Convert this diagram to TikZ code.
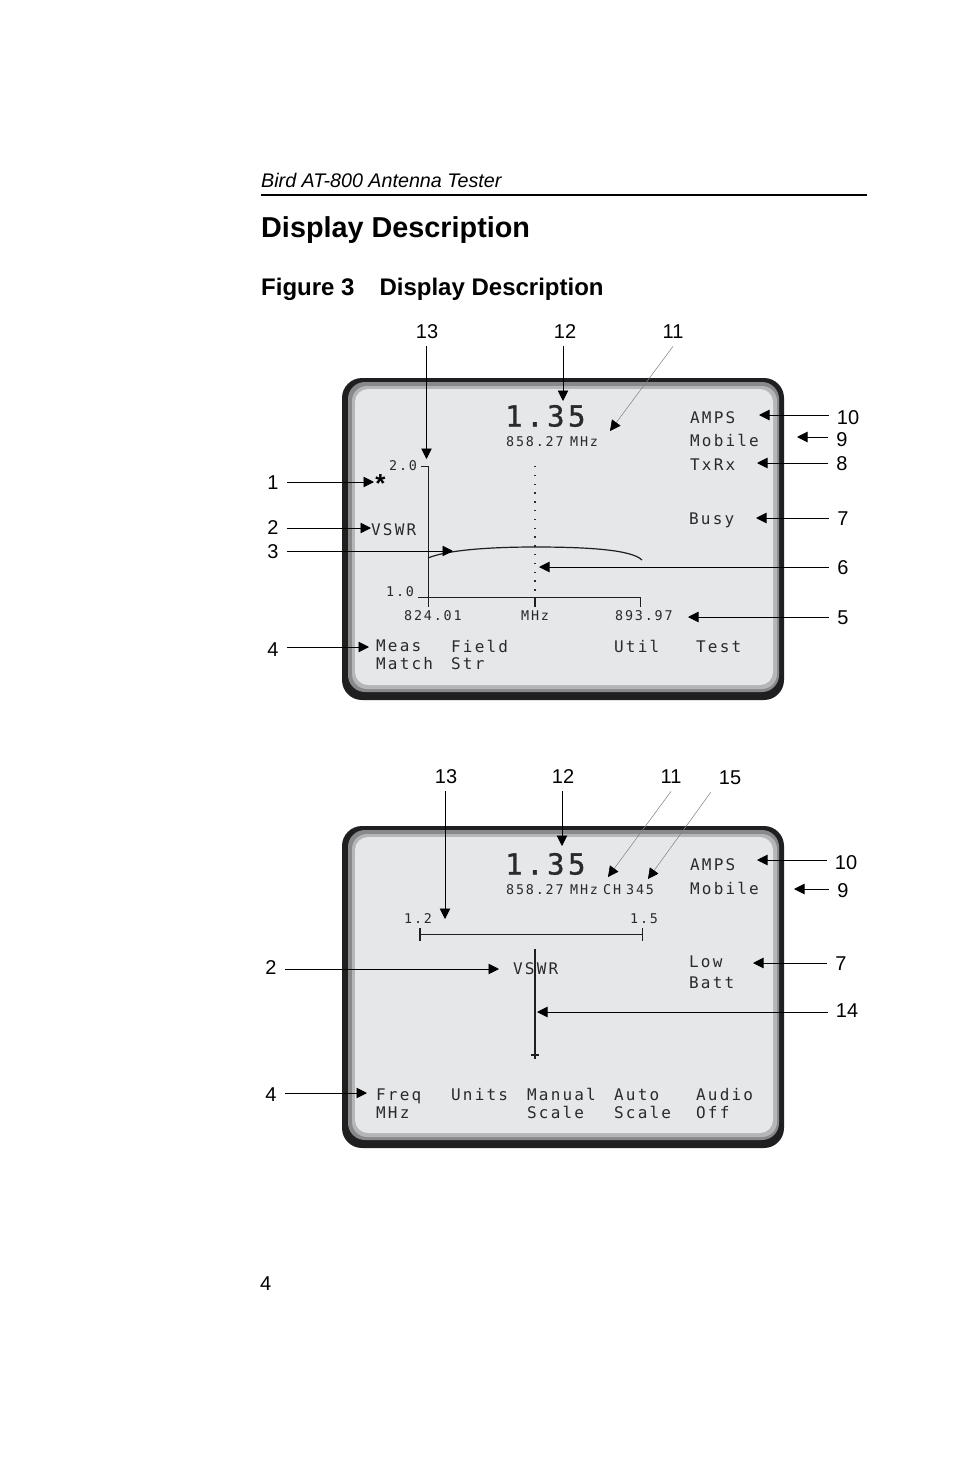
\documentclass[tikz,border=0pt]{standalone}
\usepackage{fontspec}
\setmainfont{Liberation Sans}
\newfontfamily\lcdl[LetterSpace=13.5]{DejaVu Sans Mono}
\newfontfamily\lcdb[LetterSpace=12,FakeBold=1]{DejaVu Sans Mono}
\usetikzlibrary{arrows.meta}
\definecolor{scr}{HTML}{E6E7E9}
\definecolor{dk}{HTML}{1F1F21}
\definecolor{gmid}{HTML}{87898B}
\definecolor{glt}{HTML}{B4B6B8}
\definecolor{ink}{HTML}{2A2A2C}
\tikzset{
  x=1pt,y=-1pt,
  lab/.style={font=\fontsize{20}{20}\selectfont,text=black,text height=14.3pt,text depth=0pt,inner xsep=8pt,inner ysep=8pt},
  lcd/.style={anchor=west,yshift=-0.7pt,inner sep=0pt,text=ink,text height=11.7pt,text depth=0pt,font=\lcdl\fontsize{16}{16}\selectfont},
  lcds/.style={anchor=west,yshift=-0.5pt,inner sep=0pt,text=ink,text height=9.8pt,text depth=0pt,font=\lcdl\fontsize{13.4}{14}\selectfont},
  lcdbig/.style={anchor=west,inner sep=0pt,text=ink,text height=21pt,text depth=0pt,font=\lcdb\fontsize{29}{29}\selectfont},
  arr/.style={draw=black,line width=0.9pt,-{Triangle[length=10.5pt,width=10.5pt]}},
  thinarr/.style={draw=gray,line width=0.5pt,-{Triangle[length=10.5pt,width=10.5pt,black]}},
  axis/.style={draw=dk,line width=1pt},
  head/.style={anchor=west,inner sep=0pt,text=black},
}
\newcommand{\bezelat}[1]{%
  \begin{scope}[yshift=-#1pt]
    \fill[dk,rounded corners=20pt] (342,0) rectangle (784,322);
    \fill[gmid,rounded corners=17pt] (348,4) rectangle (779,314);
    \fill[glt,rounded corners=15pt] (352,8) rectangle (777,311);
    \fill[scr,rounded corners=13pt] (355,11) rectangle (773,307);
  \end{scope}}
\begin{document}
\begin{tikzpicture}
\useasboundingbox[fill=white] (0,0) rectangle (954,1475);
% header
\node[head,font=\fontsize{19.7}{20}\selectfont\itshape] (hdr) at (261,180) {Bird AT-800 Antenna Tester};
\coordinate (hl) at (261,195); \coordinate (hr) at (867,195);
\draw[black,line width=2pt] (hl) -- (hr);
\node[head,font=\fontsize{28.8}{30}\selectfont\bfseries] (title) at (261,230) {Display Description};
\node[head,font=\fontsize{24}{24}\selectfont\bfseries] (fig) at (261,289) {Figure 3\hspace{25pt}Display Description};
\node[head,font=\fontsize{20}{20}\selectfont] (page) at (260,1284) {4};

\bezelat{378}
\bezelat{826}

%%% upper screen
\node[lcdbig] (t1) at (505,416) {1.35};
\node[lcds] (t2) at (506,441) {858.27};
\node[lcds] (t3) at (570,441) {MHz};
\node[lcd] (t4) at (690,417) {AMPS};
\node[lcd] (t5) at (690,440) {Mobile};
\node[lcd] (t6) at (690,464) {TxRx};
\node[lcd] (t7) at (689,518) {Busy};
\node[lcds] (t8) at (389,465) {2.0};
\node[lcds] (t9) at (386,591) {1.0};
\node[anchor=center,inner sep=0pt,text=black,font=\fontsize{26}{26}\selectfont\bfseries] (star) at (380.5,484) {*};
\node[lcd] (t10) at (371,529) {VSWR};
\node[lcds] (t11) at (404,615) {824.01};
\node[lcds] (t12) at (521,615) {MHz};
\node[lcds] (t13) at (615,615) {893.97};
\node[lcd] (t14) at (376,645) {Meas};
\node[lcd] (t15) at (376,663) {Match};
\node[lcd] (t16) at (451,646) {Field};
\node[lcd] (t17) at (451,663) {Str};
\node[lcd] (t18) at (614,646) {Util};
\node[lcd] (t19) at (696,646) {Test};

% axes
\coordinate (ya) at (421,466); \coordinate (yb) at (428.7,466); \coordinate (yc) at (428.7,607);
\draw[axis] (ya) -- (yb) -- (yc);
\coordinate (xa) at (418,597); \coordinate (xb) at (640,597); \coordinate (xc) at (640,607);
\draw[axis] (xa) -- (xb) -- (xc);
\coordinate (ma) at (535,597); \coordinate (mb) at (535,607);
\draw[axis,line width=1.6pt] (ma) -- (mb);
\coordinate (da) at (535,466); \coordinate (db) at (535,597);
\draw[ink,line width=1.3pt,dash pattern=on 1.3pt off 7.5pt] (da) -- (db);
% curve
\coordinate (ca) at (428,558); \coordinate (cb) at (642,560);
\draw[dk,line width=1.2pt] (ca) .. controls (447,550) and (490,547) .. (535,547)
   .. controls (590,547) and (632,550) .. (cb);

% labels upper
\node[lab] (a13) at (427,331) {13};
\node[lab] (a12) at (565,331) {12};
\node[lab] (a11) at (673,331) {11};
\node[lab] (a10) at (848,417) {10};
\node[lab] (a9) at (842,439) {9};
\node[lab] (a8) at (842,463) {8};
\node[lab] (a7) at (843,518) {7};
\node[lab] (a6) at (843,567) {6};
\node[lab] (a5) at (843,617) {5};
\node[lab] (a1) at (273,482) {1};
\node[lab] (a2) at (273,527) {2};
\node[lab] (a3) at (273,551) {3};
\node[lab] (a4) at (273,649) {4};
\coordinate (p13) at (426.5,459);
\coordinate (p12) at (563,401);
\coordinate (p11) at (610,431);
\coordinate (p10) at (759,415);
\coordinate (p9) at (797,437);
\coordinate (p8) at (757,463);
\coordinate (p7) at (756,518);
\coordinate (p6) at (539,567);
\coordinate (p5) at (688,617);
\coordinate (p1) at (374,482);
\coordinate (p2) at (371,528);
\coordinate (p3) at (453,551);
\coordinate (p4) at (369,647);
\draw[arr] (a13.south -| p13) -- (p13);
\draw[arr] (a12.south -| p12) -- (p12);
\draw[thinarr] (a11.south) -- (p11);
\draw[arr] (a10.west |- p10) -- (p10);
\draw[arr] (a9.west |- p9) -- (p9);
\draw[arr] (a8.west |- p8) -- (p8);
\draw[arr] (a7.west |- p7) -- (p7);
\draw[arr] (a6.west |- p6) -- (p6);
\draw[arr] (a5.west |- p5) -- (p5);
\draw[arr] (a1.east |- p1) -- (p1);
\draw[arr] (a2.east |- p2) -- (p2);
\draw[arr] (a3.east |- p3) -- (p3);
\draw[arr] (a4.east |- p4) -- (p4);

%%% lower screen
\node[lcdbig] (u1) at (505,864) {1.35};
\node[lcds] (u2) at (506,889) {858.27};
\node[lcds] (u3) at (570,889) {MHz};
\node[lcds] (u4) at (603,889) {CH};
\node[lcds] (u5) at (626,889) {345};
\node[lcd] (u6) at (690,864) {AMPS};
\node[lcd] (u7) at (690,888) {Mobile};
\node[lcd] (u8) at (689,961) {Low};
\node[lcd] (u9) at (689,982) {Batt};
\node[lcds] (u10) at (404,918) {1.2};
\node[lcds] (u11) at (630,918) {1.5};
\node[lcd] (u12) at (513,968) {VSWR};
\node[lcd] (u13) at (376,1094) {Freq};
\node[lcd] (u14) at (376,1112) {MHz};
\node[lcd] (u15) at (451,1094) {Units};
\node[lcd] (u16) at (527,1094) {Manual};
\node[lcd] (u17) at (527,1112) {Scale};
\node[lcd] (u18) at (614,1094) {Auto};
\node[lcd] (u19) at (614,1112) {Scale};
\node[lcd] (u20) at (696,1094) {Audio};
\node[lcd] (u21) at (696,1112) {Off};

\coordinate (sa) at (420,934); \coordinate (sb) at (642,934);
\draw[axis] (sa) -- (sb);
\coordinate (sa1) at (420,928); \coordinate (sa2) at (420,941);
\draw[axis,line width=1.4pt] (sa1) -- (sa2);
\coordinate (sb1) at (642,928); \coordinate (sb2) at (642,941);
\draw[axis,line width=0.7pt] (sb1) -- (sb2);
\coordinate (na) at (535,949); \coordinate (nb) at (535,1059);
\draw[dk,line width=1.9pt] (na) -- (nb);
\coordinate (nc) at (531,1055); \coordinate (nd) at (539,1055);
\draw[dk,line width=1.3pt] (nc) -- (nd);

\node[lab] (b13) at (446,776) {13};
\node[lab] (b12) at (563,776) {12};
\node[lab] (b11) at (671,776) {11};
\node[lab] (b15) at (730,777) {15};
\node[lab] (b10) at (846,862) {10};
\node[lab] (b9) at (843,890) {9};
\node[lab] (b7) at (841,963) {7};
\node[lab] (b14) at (847,1010) {14};
\node[lab] (b2) at (271,967) {2};
\node[lab] (b4) at (271,1094) {4};
\coordinate (q13) at (445,919);
\coordinate (q12) at (562,846);
\coordinate (q11) at (608,877);
\coordinate (q15) at (648,879);
\coordinate (q10) at (757,860);
\coordinate (q9) at (794,889);
\coordinate (q7) at (753,963);
\coordinate (q14) at (537,1012);
\coordinate (q2) at (499,969);
\coordinate (q4) at (367,1093);
\draw[arr] (b13.south -| q13) -- (q13);
\draw[arr] (b12.south -| q12) -- (q12);
\draw[thinarr] (b11.south) -- (q11);
\draw[thinarr] (b15.south west) -- (q15);
\draw[arr] (b10.west |- q10) -- (q10);
\draw[arr] (b9.west |- q9) -- (q9);
\draw[arr] (b7.west |- q7) -- (q7);
\draw[arr] (b14.west |- q14) -- (q14);
\draw[arr] (b2.east |- q2) -- (q2);
\draw[arr] (b4.east |- q4) -- (q4);
\end{tikzpicture}
\end{document}
